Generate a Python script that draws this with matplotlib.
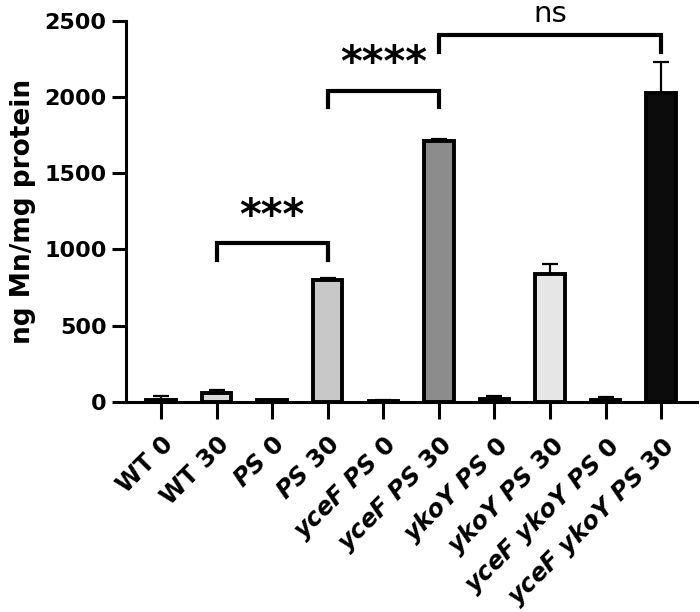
import matplotlib
matplotlib.use("Agg")
import matplotlib.pyplot as plt
import numpy as np

categories = ["WT 0", "WT 30", "$PS$ 0", "$PS$ 30", "$yceF$ $PS$ 0", "$yceF$ $PS$ 30",
              "$ykoY$ $PS$ 0", "$ykoY$ $PS$ 30", "$yceF$ $ykoY$ $PS$ 0", "$yceF$ $ykoY$ $PS$ 30"]
values = [12, 55, 8, 798, 6, 1711, 18, 838, 12, 2028]
errors = [24, 25, 3, 12, 2, 10, 19, 65, 18, 200]
colors = ["#ffffff", "#d8d8d8", "#ffffff", "#c8c8c8", "#ffffff", "#8c8c8c",
          "#ffffff", "#e6e6e6", "#ffffff", "#0c0c0c"]
yticks = [0, 500, 1000, 1500, 2000, 2500]
# significance brackets: (left index, right index, bracket y, drop y, label, label y)
sig_pairs = [(1, 3, 1040, 930, "***", 1214),
             (3, 5, 2041, 1936, "****", 2216),
             (5, 9, 2406, 2297, "ns", 2490)]

plt.rcParams['font.family'] = ['DejaVu Sans']
plt.rcParams['mathtext.fontset'] = 'custom'
plt.rcParams['mathtext.it'] = 'DejaVu Sans:italic:bold'
plt.rcParams['mathtext.rm'] = 'DejaVu Sans:bold'

fig = plt.figure(figsize=(7, 6.12), dpi=100)
ax = fig.add_axes([0.18, 0.3436, 0.816, 0.6226])

x = np.arange(len(categories))
ax.bar(x, values, width=0.53, color=colors, edgecolor="black", linewidth=2.8, zorder=3)
ax.errorbar(x, values, yerr=[np.zeros(len(errors)), errors], fmt="none", ecolor="black",
            elinewidth=1.6, capsize=6, capthick=1.6, zorder=2)

ax.set_xlim(-0.63, 9.65)
ax.set_ylim(0, 2500)
ax.set_yticks(yticks)
ax.set_yticklabels([str(v) for v in yticks], fontsize=16, fontweight="bold")
ax.set_xticks(x)
ax.set_xticklabels(categories, fontsize=17.5, fontweight="bold", rotation=45,
                   ha="right", va="top", rotation_mode="anchor")
for s in ["top", "right"]:
    ax.spines[s].set_visible(False)
for s in ["left", "bottom"]:
    ax.spines[s].set_linewidth(2.2)
ax.tick_params(axis="x", length=12, width=2.2, pad=10)
ax.tick_params(axis="y", length=10, width=2.2, pad=4)
ax.set_ylabel("ng Mn/mg protein", fontsize=19, fontweight="bold", labelpad=6)

for i, j, yb, yd, lab, yl in sig_pairs:
    ax.plot([x[i], x[i], x[j], x[j]], [yd, yb, yb, yd], color="black", lw=3,
            solid_joinstyle="miter", clip_on=False, zorder=4)
    if lab == "ns":
        ax.text((x[i] + x[j]) / 2, yl, lab, ha="center", va="baseline", fontsize=21,
                clip_on=False)
    else:
        ax.text((x[i] + x[j]) / 2, yl, lab, ha="center", va="center", fontsize=30,
                fontweight="bold", clip_on=False)

fig.savefig("out.png", dpi=100)
